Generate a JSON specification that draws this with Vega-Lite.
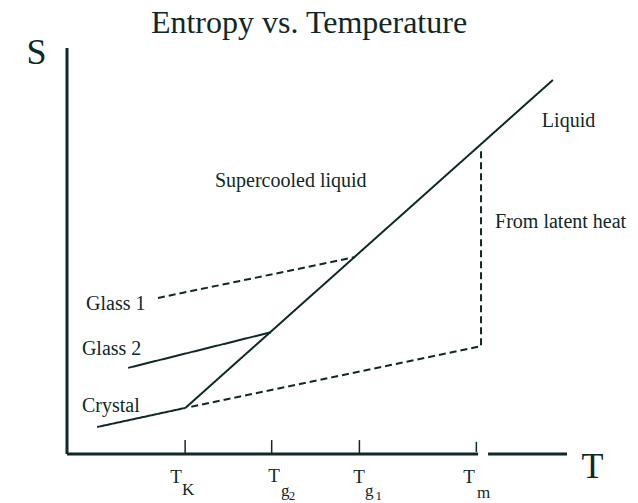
{
  "$schema": "https://vega.github.io/schema/vega-lite/v6.json",
  "width": 500,
  "height": 406,
  "autosize": {"type": "none"},
  "padding": {"left": 67, "top": 48, "right": 71, "bottom": 49},
  "background": "white",
  "title": {
    "text": "Entropy vs. Temperature",
    "font": "Liberation Serif",
    "fontSize": 32,
    "fontWeight": "normal",
    "color": "#102828",
    "anchor": "middle",
    "dx": -8,
    "dy": 10
  },
  "config": {"view": {"stroke": null}, "font": "Liberation Serif"},
  "datasets": {
    "axes": [
      {"T": 0, "S": 0, "T2": 0, "S2": 14},
      {"T": 0, "S": 0, "T2": 14.06, "S2": 0},
      {"T": 14.4, "S": 0, "T2": 17.1, "S2": 0}
    ],
    "ticks": [
      {"T": 4.04, "S": 0, "T2": 4.04, "S2": 0.48},
      {"T": 7.0, "S": 0, "T2": 7.0, "S2": 0.48},
      {"T": 10.0, "S": 0, "T2": 10.0, "S2": 0.48},
      {"T": 14.0, "S": 0.07, "T2": 14.0, "S2": 0.42}
    ],
    "curves": [
      {"curve": "Crystal", "kind": "actual", "order": 1, "T": 1.03, "S": 0.93},
      {"curve": "Crystal", "kind": "actual", "order": 2, "T": 4.05, "S": 1.59},
      {"curve": "Liquid", "kind": "actual", "order": 1, "T": 4.05, "S": 1.59},
      {"curve": "Liquid", "kind": "actual", "order": 2, "T": 16.62, "S": 12.9},
      {"curve": "Glass 2", "kind": "actual", "order": 1, "T": 2.09, "S": 2.97},
      {"curve": "Glass 2", "kind": "actual", "order": 2, "T": 6.98, "S": 4.2},
      {"curve": "Glass 1", "kind": "extrapolated", "order": 1, "T": 3.11, "S": 5.38},
      {"curve": "Glass 1", "kind": "extrapolated", "order": 2, "T": 9.85, "S": 6.79},
      {"curve": "Crystal ext", "kind": "extrapolated", "order": 1, "T": 4.25, "S": 1.63},
      {"curve": "Crystal ext", "kind": "extrapolated", "order": 2, "T": 14.16, "S": 3.72},
      {"curve": "Crystal ext", "kind": "extrapolated", "order": 3, "T": 14.16, "S": 10.48}
    ],
    "notes": [
      {"text": "Glass 1", "T": 0.65, "S": 4.97},
      {"text": "Glass 2", "T": 0.51, "S": 3.41},
      {"text": "Crystal", "T": 0.51, "S": 1.46},
      {"text": "Liquid", "T": 16.24, "S": 11.28},
      {"text": "Supercooled liquid", "T": 5.06, "S": 9.21},
      {"text": "From latent heat", "T": 14.64, "S": 7.79}
    ],
    "tickMain": [
      {"text": "T", "T": 3.73, "S": -1.0},
      {"text": "T", "T": 7.08, "S": -0.97},
      {"text": "T", "T": 9.99, "S": -1.0},
      {"text": "T", "T": 13.75, "S": -1.0}
    ],
    "tickSub": [
      {"text": "K", "T": 3.93, "S": -1.41},
      {"text": "g", "T": 7.32, "S": -1.45},
      {"text": "g", "T": 10.19, "S": -1.45},
      {"text": "m", "T": 14.02, "S": -1.5}
    ],
    "tickSubSub": [
      {"text": "2", "T": 7.58, "S": -1.6},
      {"text": "1", "T": 10.55, "S": -1.6}
    ]
  },
  "encoding": {
    "x": {
      "field": "T",
      "type": "quantitative",
      "scale": {"domain": [0, 17.1], "nice": false, "zero": false},
      "axis": {
        "domain": false, "ticks": false, "labels": false, "grid": false,
        "title": "T", "titleFont": "Liberation Serif", "titleFontSize": 36,
        "titleFontWeight": "normal", "titleColor": "#102828",
        "titleX": 525, "titleY": 23, "titleAlign": "center", "titleBaseline": "alphabetic"
      }
    },
    "y": {
      "field": "S",
      "type": "quantitative",
      "scale": {"domain": [0, 14], "nice": false, "zero": false},
      "axis": {
        "domain": false, "ticks": false, "labels": false, "grid": false,
        "title": "S", "titleFont": "Liberation Serif", "titleFontSize": 36,
        "titleFontWeight": "normal", "titleColor": "#102828", "titleAngle": 0,
        "titleX": -31, "titleY": 15, "titleAlign": "center", "titleBaseline": "alphabetic"
      }
    }
  },
  "layer": [
    {
      "data": {"name": "axes"},
      "mark": {"type": "rule", "strokeWidth": 3, "color": "#102828"},
      "encoding": {"x2": {"field": "T2"}, "y2": {"field": "S2"}}
    },
    {
      "data": {"name": "ticks"},
      "mark": {"type": "rule", "strokeWidth": 1.5, "color": "#102828"},
      "encoding": {"x2": {"field": "T2"}, "y2": {"field": "S2"}}
    },
    {
      "data": {"name": "curves"},
      "mark": {"type": "line", "strokeWidth": 2, "color": "#102828"},
      "encoding": {
        "detail": {"field": "curve", "type": "nominal"},
        "order": {"field": "order", "type": "quantitative"},
        "strokeDash": {
          "field": "kind", "type": "nominal",
          "scale": {"domain": ["actual", "extrapolated"], "range": [[1, 0], [7, 4]]},
          "legend": null
        }
      }
    },
    {
      "data": {"name": "notes"},
      "mark": {"type": "text", "align": "left", "baseline": "alphabetic", "fontSize": 20, "font": "Liberation Serif", "color": "#102828"},
      "encoding": {"text": {"field": "text"}}
    },
    {
      "data": {"name": "tickMain"},
      "mark": {"type": "text", "align": "center", "baseline": "alphabetic", "fontSize": 19, "font": "Liberation Serif", "color": "#102828"},
      "encoding": {"text": {"field": "text"}}
    },
    {
      "data": {"name": "tickSub"},
      "mark": {"type": "text", "align": "left", "baseline": "alphabetic", "fontSize": 17, "font": "Liberation Serif", "color": "#102828"},
      "encoding": {"text": {"field": "text"}}
    },
    {
      "data": {"name": "tickSubSub"},
      "mark": {"type": "text", "align": "left", "baseline": "alphabetic", "fontSize": 13, "font": "Liberation Serif", "color": "#102828"},
      "encoding": {"text": {"field": "text"}}
    }
  ]
}
